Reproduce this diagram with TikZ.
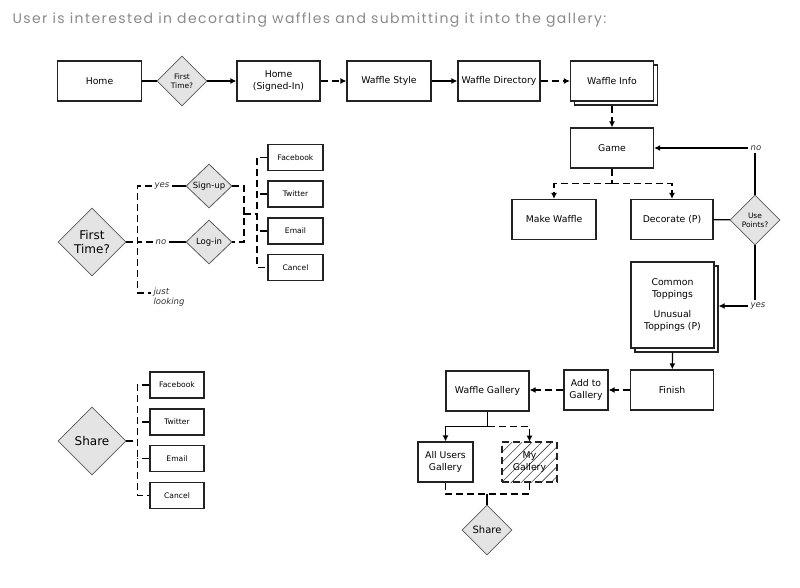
\documentclass[tikz,border=0pt]{standalone}
\usepackage{fontspec}
\setmainfont{DejaVu Sans}
\newfontfamily\titlefont[LetterSpace=10]{Poppins}
\usetikzlibrary{shapes.geometric,arrows.meta,shadows,patterns.meta}
\definecolor{linegray}{HTML}{222222}
\definecolor{diafill}{HTML}{E4E4E4}
\definecolor{titlegray}{HTML}{8A8A8A}

\begin{document}
\begin{tikzpicture}
        [
            x                       = 1pt,
            y                       = -1pt,
            line width              = 1.2pt,
            >                       = {Latex[length=6pt,width=6pt]},
            boxed/.style            = {shape=rectangle, draw=linegray, fill=white, line width=1.2pt,
                                       align=center, inner sep=0pt, minimum height=40,
                                       font=\fontsize{9.3}{11.5}\selectfont},
            smallbox/.style         = {boxed, minimum width=55, minimum height=26,
                                       font=\fontsize{7.6}{9}\selectfont},
            stacked/.style          = {boxed, copy shadow={shadow xshift=4pt, shadow yshift=-4pt}},
            decision/.style         = {shape=diamond, draw=black!65, fill=diafill, line width=0.8pt,
                                       inner sep=0pt, minimum width=50, minimum height=50, align=center,
                                       font=\fontsize{7.5}{9}\selectfont},
            bigdecision/.style      = {decision, minimum width=68, minimum height=68,
                                       font=\fontsize{12}{14}\selectfont},
            answer/.style           = {inner sep=2pt, align=left, text=black!80,
                                       font=\itshape\fontsize{8.5}{9.5}\selectfont},
            optional/.style         = {dash pattern=on 7pt off 4pt},
        ]
        \useasboundingbox (0,0) rectangle (800,588);
        \node [anchor=west, inner sep=0pt, text=titlegray, font=\titlefont\fontsize{14}{16}\selectfont]
            (title) at (12,20) {User is interested in decorating waffles and submitting it into the gallery:};

        \node [boxed, minimum width=84] (home) at (99.5,81) {Home};
        \node [decision] (first) at (182,81) {First\\Time?};
        \node [boxed, minimum width=83] (homesigned) at (278.5,81) {Home\\(Signed-In)};
        \node [boxed, minimum width=84] (style) at (389,81) {Waffle Style};
        \node [boxed, minimum width=82] (directory) at (499,81) {Waffle Directory};
        \node [stacked, minimum width=83] (info) at (612,81) {Waffle Info};
        \node [boxed, minimum width=83] (game) at (612,148) {Game};
        \node [boxed, minimum width=84] (make) at (554,219.5) {Make Waffle};
        \node [boxed, minimum width=82] (decorate) at (672,219.5) {Decorate (P)};
        \node [decision] (points) at (755,220) {Use\\Points?};
        \node [answer] (no) at (756,148) {no};
        \node [answer] (yes) at (758,306) {yes};
        \node [stacked, minimum width=83, minimum height=86] (toppings) at (672.5,305)
            {Common\\Toppings\\[1em]Unusual\\Toppings (P)};
        \node [boxed, minimum width=83] (finish) at (672,390) {Finish};
        \node [boxed, minimum width=44] (add) at (586,390) {Add to\\Gallery};
        \node [boxed, minimum width=83] (gallery) at (487.5,391) {Waffle Gallery};
        \node [boxed, minimum width=55] (allusers) at (445.5,462) {All Users\\Gallery};
        \node [boxed, optional, minimum width=55,
               pattern={Lines[angle=45, distance=7pt, line width=0.6pt]}, pattern color=black!75]
            (mygallery) at (529.5,462) {My\\Gallery};
        \node [decision, font=\fontsize{10}{12}\selectfont] (share) at (487,530) {Share};

        \draw (home) -- (first);
        \draw [->] (first) -- (homesigned);
        \draw [->, optional] (homesigned) -- (style);
        \draw [->] (style) -- (directory);
        \draw [->, optional] (directory) -- (info);
        \draw [->, optional] ([yshift=-4pt]info.south) -- (game);
        \draw [optional] (game.south) -- ++(0,15) coordinate (gamesplit);
        \draw [->, optional] (gamesplit) -| (make);
        \draw [->, optional] (gamesplit) -| (decorate);
        \draw (decorate) -- (points);
        \draw (points.north) -- (points.north |- no.south);
        \draw [->] (no.west) -- (game.east);
        \draw (points.south) -- (points.south |- yes.north);
        \draw [->] (yes.west) -- ([xshift=4pt]yes.west -| toppings.east);
        \draw [->] ([yshift=-4pt]toppings.south) -- (finish);
        \draw [->, optional] (finish) -- (add);
        \draw [->, optional] (add.west) -- (add.west -| gallery.east);
        \draw (gallery.south) -- ++(0,15) coordinate (gallerysplit);
        \draw [->] (gallerysplit) -| (allusers);
        \draw [->, optional] (gallerysplit) -| (mygallery);
        \coordinate (sharejoin) at (487,494);
        \draw [optional] (allusers.south) |- (sharejoin) -| (mygallery.south);
        \draw (sharejoin) -- (share.north);

        \node [bigdecision] (firstbig) at (92,242) {First\\Time?};
        \node [answer] (firstyes) at (162,186) {yes};
        \node [answer] (firstno) at (161,242) {no};
        \node [answer, anchor=west] (looking) at (151,297) {just\\looking};
        \node [decision, minimum width=46, minimum height=44, font=\fontsize{8.5}{10}\selectfont]
            (signup) at (209,186) {Sign-up};
        \node [decision, minimum width=46, minimum height=44, font=\fontsize{8.5}{10}\selectfont]
            (login) at (209,242) {Log-in};
        \node [smallbox] (facebook) at (295.5,157.5) {Facebook};
        \node [smallbox] (twitter) at (295.5,194) {Twitter};
        \node [smallbox] (email) at (295.5,231) {Email};
        \node [smallbox] (cancel) at (295.5,267.5) {Cancel};

        \draw [optional] (firstbig.east) -- ++(11,0) coordinate (firstspine);
        \draw [optional] (firstyes.west) -| (firstspine) |- ([yshift=4pt]looking.west);
        \draw [optional] (firstno.west) -- (firstspine);
        \draw (firstyes.east) -- (signup);
        \draw (firstno.east) -- (login);
        \coordinate (authjoin) at (244,214);
        \draw [optional] (signup.east) -| (authjoin) |- (login.east);
        \draw [optional] (authjoin) -- ++(13,0) coordinate (authspine);
        \draw [optional] (facebook.west) -| (authspine) |- (cancel.west);
        \draw [optional] (twitter.west) -- (twitter.west -| authspine);
        \draw [optional] (email.west) -- (email.west -| authspine);

        \node [bigdecision] (sharebig) at (92,441) {Share};
        \node [smallbox, minimum width=54] (sharefacebook) at (177,385) {Facebook};
        \node [smallbox, minimum width=54] (sharetwitter) at (177,422) {Twitter};
        \node [smallbox, minimum width=54] (shareemail) at (177,458.5) {Email};
        \node [smallbox, minimum width=54] (sharecancel) at (177,495.5) {Cancel};

        \draw [optional] (sharebig.east) -- ++(11,0) coordinate (sharespine);
        \draw [optional] (sharefacebook.west) -| (sharespine) |- (sharecancel.west);
        \draw [optional] (sharetwitter.west) -- (sharetwitter.west -| sharespine);
        \draw [optional] (shareemail.west) -- (shareemail.west -| sharespine);
    \end{tikzpicture}
\end{document}
